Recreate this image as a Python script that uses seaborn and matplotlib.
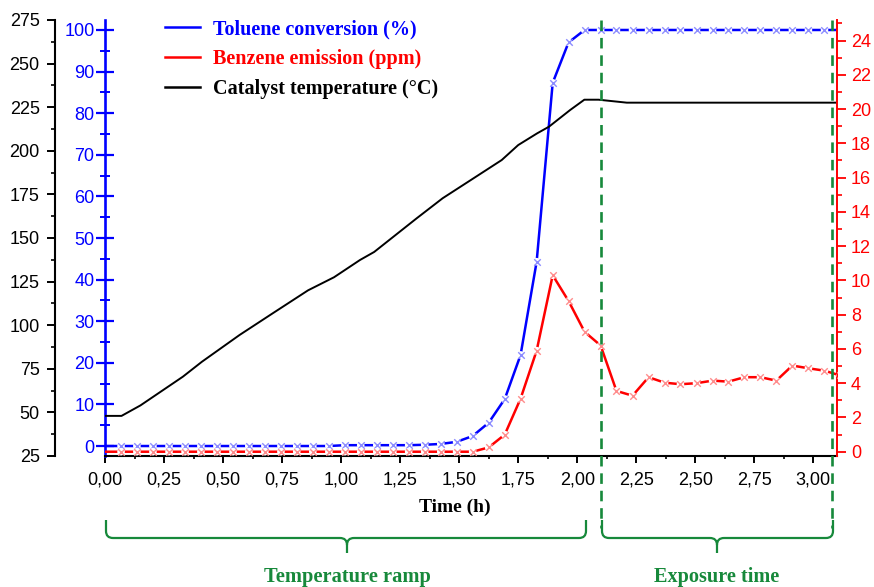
import matplotlib
matplotlib.use("Agg")
import matplotlib.pyplot as plt
import seaborn as sns
import pandas as pd
from matplotlib.ticker import MultipleLocator, FuncFormatter
from matplotlib.path import Path
from matplotlib.patches import PathPatch
from matplotlib.lines import Line2D
import matplotlib.transforms as mtransforms

# ---------------- data ----------------
time_h = [0.000, 0.068, 0.135, 0.203, 0.271, 0.339, 0.406, 0.474, 0.542, 0.609,
          0.677, 0.745, 0.812, 0.880, 0.948, 1.016, 1.083, 1.151, 1.219, 1.286,
          1.354, 1.422, 1.489, 1.557, 1.625, 1.693, 1.760, 1.828, 1.896, 1.963,
          2.031, 2.099, 2.166, 2.234, 2.302, 2.370, 2.437, 2.505, 2.573, 2.640,
          2.708, 2.776, 2.843, 2.911, 2.979, 3.047, 3.114]
toluene_conversion = [0.0, 0.0, 0.0, 0.0, 0.0, 0.0, 0.0, 0.0, 0.0, 0.0,
                      0.0, 0.0, 0.0, 0.0, 0.0, 0.2, 0.2, 0.2, 0.2, 0.2,
                      0.3, 0.5, 1.0, 2.4, 5.6, 11.3, 21.9, 44.3, 87.3, 97.0,
                      100.0, 100.0, 100.0, 100.0, 100.0, 100.0, 100.0, 100.0, 100.0, 100.0,
                      100.0, 100.0, 100.0, 100.0, 100.0, 100.0, 100.0]
benzene_ppm = [0.0, 0.0, 0.0, 0.0, 0.0, 0.0, 0.0, 0.0, 0.0, 0.0,
               0.0, 0.0, 0.0, 0.0, 0.0, 0.0, 0.0, 0.0, 0.0, 0.0,
               0.0, 0.0, 0.0, 0.0, 0.25, 1.0, 3.1, 5.9, 10.3, 8.8,
               7.0, 6.2, 3.55, 3.27, 4.35, 4.03, 3.94, 4.0, 4.15, 4.09,
               4.35, 4.35, 4.15, 5.03, 4.87, 4.73, 4.45]
temp_time_h = [0.00, 0.07, 0.15, 0.33, 0.41, 0.57, 0.71, 0.86, 0.97, 1.08,
               1.14, 1.32, 1.43, 1.55, 1.68, 1.75, 1.83, 1.88, 1.97, 2.03,
               2.09, 2.21, 3.10]
catalyst_temp = [48.0, 48.0, 54.0, 70.5, 79.0, 94.4, 106.8, 120.0, 127.5, 137.4,
                 142.0, 161.3, 172.8, 183.3, 194.7, 203.3, 210.0, 213.8, 223.4, 229.3,
                 229.3, 227.6, 227.6]

legend_labels = ["Toluene conversion (%)", "Benzene emission (ppm)", "Catalyst temperature (\u00b0C)"]
phase_labels = ["Temperature ramp", "Exposure time"]
phase_bounds = [2.1, 3.08]

df = pd.DataFrame({"t": time_h, "conv": toluene_conversion, "benz": benzene_ppm})
dfT = pd.DataFrame({"t": temp_time_h, "T": catalyst_temp})

# ---------------- style ----------------
plt.rcParams["font.family"] = ["Liberation Sans", "DejaVu Sans"]
BLUE, RED, GREEN = "#0000ff", "#ff0000", "#17893b"
LBLUE, LRED = "#8c8cff", "#ff8c8c"
serif_bold = dict(family="Liberation Serif", weight="bold")

W, H = 874, 587
fig = plt.figure(figsize=(W / 100, H / 100), dpi=100)
L, R, T, B = 105, 837, 20, 456
ax = fig.add_axes([L / W, 1 - B / H, (R - L) / W, (B - T) / H])
axT = ax.twinx()
axB = ax.twinx()

# ---------------- plot ----------------
sns.lineplot(data=dfT, x="t", y="T", ax=axT, color="black", linewidth=1.4, zorder=2)

sns.lineplot(data=df, x="t", y="conv", ax=ax, color=BLUE, linewidth=1.8, zorder=2)
sns.scatterplot(data=df.iloc[1:], x="t", y="conv", ax=ax, marker="o", s=30,
                color="white", edgecolor="none", zorder=3)
sns.scatterplot(data=df.iloc[1:], x="t", y="conv", ax=ax, marker="x", s=22,
                color=LBLUE, linewidth=1.0, zorder=4)

sns.lineplot(data=df, x="t", y="benz", ax=axB, color=RED, linewidth=1.8, zorder=2)
sns.scatterplot(data=df.iloc[1:], x="t", y="benz", ax=axB, marker="o", s=30,
                color="white", edgecolor="none", zorder=3)
sns.scatterplot(data=df.iloc[1:], x="t", y="benz", ax=axB, marker="x", s=22,
                color=LRED, linewidth=1.0, zorder=4)

# ---------------- axes ----------------
ax.set_xlim(0, 3.1)
ax.set_ylim(-2.4, 102.4)
axT.set_ylim(25, 275)
axB.set_ylim(-0.25, 25.2)

for a in (ax, axT, axB):
    a.set_ylabel("")
    a.set_xlabel("")
    a.spines["top"].set_visible(False)

# host (blue)
ax.spines["right"].set_visible(False)
ax.spines["left"].set_color(BLUE)
ax.spines["left"].set_linewidth(1.9)
ax.spines["bottom"].set_linewidth(1.5)
ax.yaxis.set_major_locator(MultipleLocator(10))
ax.yaxis.set_minor_locator(MultipleLocator(5))
ax.tick_params(axis="y", which="major", direction="inout", length=13, width=1.6,
               color=BLUE, labelcolor=BLUE, labelsize=13, pad=1)
ax.tick_params(axis="y", which="minor", direction="inout", length=7, width=1.4, color=BLUE)

ax.xaxis.set_major_locator(MultipleLocator(0.25))
ax.xaxis.set_minor_locator(MultipleLocator(0.125))
ax.xaxis.set_major_formatter(FuncFormatter(lambda v, p: f"{v:.2f}".replace(".", ",")))
ax.tick_params(axis="x", which="major", direction="out", length=5, width=1.4,
               labelsize=13, pad=6)
ax.tick_params(axis="x", which="minor", direction="out", length=2.5, width=1.2)
ax.set_xlabel("Time (h)", fontsize=14, **serif_bold)
ax.xaxis.set_label_coords((455 - L) / (R - L), -(507 - B) / (B - T))
ax.xaxis.label.set_va("center")

# temperature (black, offset left)
axT.spines["left"].set_position(("axes", -50 / (R - L)))
axT.spines["left"].set_visible(True)
axT.spines["left"].set_linewidth(1.5)
axT.spines["right"].set_visible(False)
axT.spines["bottom"].set_visible(False)
axT.yaxis.set_ticks_position("left")
axT.yaxis.set_label_position("left")
axT.yaxis.set_major_locator(MultipleLocator(25))
axT.yaxis.set_minor_locator(MultipleLocator(12.5))
axT.tick_params(axis="y", which="major", direction="out", length=6, width=1.4,
                labelsize=13, pad=5)
axT.tick_params(axis="y", which="minor", direction="out", length=3, width=1.2)

# benzene (red, right)
axB.spines["left"].set_visible(False)
axB.spines["bottom"].set_visible(False)
axB.spines["right"].set_color(RED)
axB.spines["right"].set_linewidth(1.4)
axB.yaxis.set_major_locator(MultipleLocator(2))
axB.yaxis.set_minor_locator(MultipleLocator(1))
axB.tick_params(axis="y", which="major", direction="out", length=6.5, width=1.3,
                color=RED, labelcolor=RED, labelsize=13, pad=3.5)
axB.tick_params(axis="y", which="minor", direction="out", length=3.5, width=1.2, color=RED)

# ---------------- phase separators ----------------
blend = mtransforms.blended_transform_factory(ax.transData, ax.transAxes)
for xb in phase_bounds:
    axB.plot([xb, xb], [1.0, -(528 - B) / (B - T)], transform=blend, color=GREEN,
             linewidth=1.9, dashes=(4, 2.6), clip_on=False, zorder=6)


def brace(x0, x1, xc, ytop=520, yh=538, ybot=553, r=7):
    pts = [(x0, ytop), (x0, yh - r), (x0, yh), (x0 + r, yh), (xc - r, yh), (xc, yh),
           (xc, yh + r), (xc, ybot),
           (xc, yh + r), (xc, yh), (xc + r, yh), (x1 - r, yh), (x1, yh), (x1, yh - r),
           (x1, ytop)]
    codes = [Path.MOVETO, Path.LINETO, Path.CURVE3, Path.CURVE3, Path.LINETO,
             Path.CURVE3, Path.CURVE3, Path.LINETO,
             Path.MOVETO, Path.CURVE3, Path.CURVE3, Path.LINETO, Path.CURVE3,
             Path.CURVE3, Path.LINETO]
    verts = [(x / W, 1 - y / H) for x, y in pts]
    fig.add_artist(PathPatch(Path(verts, codes), fill=False, edgecolor=GREEN,
                             linewidth=1.6, transform=fig.transFigure))


brace(106, 586, 347)
brace(602, 833, 717)
fig.text(347 / W, 1 - 577 / H, phase_labels[0], ha="center", va="center",
         color=GREEN, fontsize=14.8, **serif_bold)
fig.text(717 / W, 1 - 577 / H, phase_labels[1], ha="center", va="center",
         color=GREEN, fontsize=14.6, **serif_bold)

# ---------------- legend ----------------
handles = [Line2D([], [], color=c, linewidth=1.8) for c in (BLUE, RED, "black")]
leg = fig.legend(handles, legend_labels, loc="upper left",
                 bbox_to_anchor=(165 / W, 1 - 19 / H), frameon=False,
                 prop=dict(family="Liberation Serif", weight="bold", size=14.5),
                 handlelength=1.75, handletextpad=0.65, labelspacing=0.5,
                 borderpad=0, borderaxespad=0)
for txt, c in zip(leg.get_texts(), (BLUE, RED, "black")):
    txt.set_color(c)

fig.savefig("out.png", dpi=100)
